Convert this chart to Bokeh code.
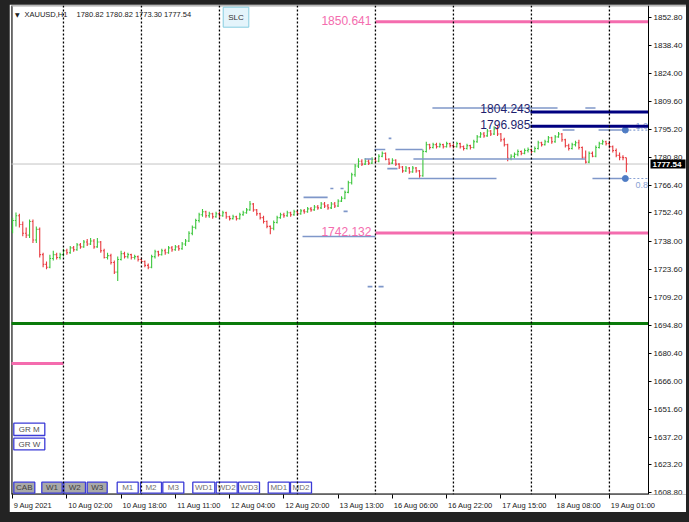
from bokeh.plotting import figure
from bokeh.layouts import column
from bokeh.models import Range1d, FixedTicker, NumeralTickFormatter, Span, Label, BoxAnnotation
from bokeh.core.properties import value
from bokeh.embed import file_html
from bokeh.resources import INLINE

# ---------------- data ----------------
symbol = "XAUUSD,H1"
header_values = "1780.82 1780.82 1773.30 1777.54"

opens = [1743.5, 1748.5, 1751.0, 1746.5, 1742.0, 1741.0, 1748.0, 1738.5, 1744.0, 1731.0,
         1726.0, 1724.5, 1729.0, 1731.0, 1729.5, 1731.0, 1733.0, 1732.0, 1734.5, 1733.5,
         1736.0, 1735.0, 1737.5, 1736.5, 1738.0, 1735.0, 1737.5, 1733.0, 1729.5, 1730.5,
         1727.0, 1722.0, 1728.5, 1731.5, 1730.0, 1731.0, 1729.5, 1730.0, 1728.5, 1727.5,
         1725.5, 1724.5, 1730.0, 1732.5, 1731.0, 1733.0, 1732.0, 1734.5, 1733.5, 1735.0,
         1734.0, 1736.5, 1738.0, 1742.0, 1745.0, 1748.5, 1751.5, 1753.0, 1751.0, 1752.0,
         1750.5, 1752.0, 1751.0, 1752.5, 1750.5, 1749.5, 1750.5, 1749.5, 1751.5, 1752.5,
         1754.0, 1757.0, 1754.0, 1752.0, 1750.0, 1748.0, 1745.5, 1744.5, 1747.5, 1750.0,
         1751.5, 1751.0, 1752.5, 1751.5, 1753.0, 1752.0, 1753.5, 1753.0, 1754.5, 1754.0,
         1755.5, 1755.0, 1757.0, 1756.0, 1755.0, 1757.0, 1756.0, 1758.5, 1760.0, 1763.0,
         1768.0, 1772.0, 1776.5, 1779.0, 1777.5, 1779.0, 1778.0, 1780.0, 1779.0, 1781.5,
         1783.0, 1780.0, 1778.0, 1779.5, 1777.5, 1776.0, 1774.0, 1775.5, 1773.5, 1775.5,
         1774.0, 1771.5, 1784.0, 1787.5, 1786.0, 1787.5, 1786.5, 1787.5, 1786.5, 1788.0,
         1787.0, 1786.5, 1788.0, 1786.5, 1785.5, 1787.0, 1786.0, 1789.0, 1791.5, 1793.0,
         1792.0, 1794.5, 1793.0, 1795.5, 1793.0, 1790.0, 1787.5, 1780.5, 1781.5, 1782.5,
         1784.0, 1783.0, 1784.5, 1785.0, 1784.0, 1785.5, 1788.5, 1787.5, 1789.0, 1791.0,
         1789.0, 1791.5, 1793.0, 1790.0, 1787.0, 1785.5, 1787.5, 1788.5, 1786.0, 1781.0,
         1778.5, 1783.0, 1781.5, 1786.0, 1788.0, 1789.0, 1788.0, 1786.5, 1784.5, 1782.0,
         1781.0, 1780.82]
highs = [1750.0, 1752.6, 1752.0, 1748.0, 1745.0, 1749.0, 1749.0, 1745.5, 1745.0, 1732.0,
         1727.5, 1731.0, 1733.0, 1732.0, 1732.0, 1734.0, 1734.0, 1735.5, 1735.5, 1737.0,
         1737.0, 1738.5, 1739.0, 1739.5, 1739.0, 1739.5, 1738.0, 1734.0, 1732.0, 1731.5,
         1728.0, 1730.0, 1733.0, 1732.5, 1732.0, 1731.5, 1731.0, 1730.5, 1729.5, 1728.0,
         1726.5, 1731.0, 1733.5, 1733.0, 1734.0, 1734.0, 1735.5, 1735.5, 1736.0, 1736.0,
         1737.5, 1739.0, 1743.0, 1746.0, 1749.5, 1752.5, 1754.5, 1753.5, 1753.0, 1752.5,
         1753.0, 1753.0, 1753.5, 1753.0, 1751.0, 1751.5, 1751.0, 1752.5, 1753.5, 1755.0,
         1758.5, 1757.5, 1754.5, 1752.5, 1751.0, 1748.5, 1746.0, 1748.5, 1751.0, 1752.5,
         1752.5, 1753.5, 1753.0, 1754.0, 1754.0, 1754.5, 1754.5, 1755.5, 1755.5, 1756.5,
         1756.5, 1758.0, 1758.0, 1757.0, 1758.0, 1758.0, 1759.5, 1761.0, 1764.0, 1769.0,
         1773.0, 1777.5, 1780.5, 1780.0, 1780.5, 1780.0, 1781.0, 1781.0, 1782.5, 1784.0,
         1783.5, 1780.5, 1780.5, 1780.0, 1778.0, 1776.5, 1776.5, 1776.0, 1776.5, 1776.0,
         1774.5, 1785.0, 1789.0, 1788.0, 1788.5, 1788.5, 1788.5, 1788.0, 1789.0, 1788.5,
         1788.0, 1789.0, 1788.5, 1787.0, 1788.0, 1787.5, 1790.0, 1792.5, 1794.0, 1794.0,
         1795.5, 1795.0, 1797.0, 1797.5, 1793.5, 1791.0, 1788.0, 1782.5, 1783.5, 1785.0,
         1784.5, 1785.5, 1786.0, 1785.5, 1786.5, 1789.5, 1789.0, 1790.0, 1792.0, 1791.5,
         1792.5, 1794.0, 1793.5, 1790.5, 1788.0, 1788.5, 1789.5, 1790.0, 1786.5, 1784.5,
         1784.0, 1784.0, 1787.0, 1789.0, 1790.0, 1789.5, 1789.5, 1787.0, 1785.5, 1783.5,
         1782.0, 1780.82]
lows = [1742.0, 1745.5, 1745.0, 1740.5, 1739.5, 1739.5, 1737.0, 1737.0, 1729.5, 1724.5,
        1723.5, 1724.0, 1728.0, 1728.5, 1728.5, 1730.0, 1731.0, 1731.5, 1732.5, 1733.0,
        1734.0, 1734.5, 1735.5, 1736.0, 1734.0, 1734.5, 1732.0, 1729.0, 1728.5, 1726.0,
        1721.0, 1717.5, 1728.0, 1729.0, 1729.0, 1728.5, 1728.5, 1727.5, 1726.5, 1724.5,
        1723.5, 1724.0, 1729.0, 1730.0, 1730.5, 1731.0, 1731.5, 1732.5, 1733.0, 1733.0,
        1733.5, 1735.5, 1737.5, 1741.0, 1744.0, 1747.5, 1750.5, 1750.0, 1750.0, 1749.5,
        1750.0, 1750.0, 1750.5, 1749.5, 1748.5, 1749.0, 1748.5, 1749.0, 1751.0, 1752.0,
        1753.5, 1753.0, 1751.0, 1749.0, 1747.0, 1744.5, 1741.5, 1743.5, 1747.0, 1749.5,
        1750.0, 1750.5, 1750.5, 1751.0, 1751.0, 1751.5, 1752.0, 1752.5, 1753.0, 1753.5,
        1754.0, 1754.5, 1755.0, 1754.0, 1754.5, 1755.0, 1755.5, 1758.0, 1759.5, 1762.5,
        1767.0, 1771.0, 1775.5, 1776.5, 1777.0, 1777.0, 1777.5, 1778.0, 1778.5, 1781.0,
        1779.5, 1777.0, 1777.5, 1776.5, 1775.0, 1773.0, 1773.5, 1772.5, 1773.0, 1773.0,
        1770.5, 1771.0, 1783.5, 1785.0, 1785.5, 1785.5, 1786.0, 1785.5, 1786.0, 1786.0,
        1785.5, 1786.0, 1785.5, 1784.5, 1785.0, 1785.0, 1785.5, 1788.5, 1791.0, 1791.0,
        1791.5, 1792.0, 1792.5, 1792.0, 1789.0, 1786.5, 1779.0, 1779.5, 1780.5, 1781.5,
        1782.0, 1782.5, 1783.5, 1783.0, 1783.5, 1785.0, 1786.5, 1787.0, 1788.5, 1788.0,
        1788.5, 1791.0, 1789.0, 1786.0, 1784.5, 1785.0, 1786.5, 1785.0, 1780.0, 1777.8,
        1778.0, 1781.0, 1781.0, 1785.5, 1787.5, 1787.0, 1785.5, 1783.5, 1781.0, 1779.5,
        1779.5, 1773.30]
closes = [1748.5, 1751.0, 1746.5, 1742.0, 1741.0, 1748.0, 1738.5, 1744.0, 1731.0, 1726.0,
          1724.5, 1729.0, 1731.0, 1729.5, 1731.0, 1733.0, 1732.0, 1734.5, 1733.5, 1736.0,
          1735.0, 1737.5, 1736.5, 1738.0, 1735.0, 1737.5, 1733.0, 1729.5, 1730.5, 1727.0,
          1722.0, 1728.5, 1731.5, 1730.0, 1731.0, 1729.5, 1730.0, 1728.5, 1727.5, 1725.5,
          1724.5, 1730.0, 1732.5, 1731.0, 1733.0, 1732.0, 1734.5, 1733.5, 1735.0, 1734.0,
          1736.5, 1738.0, 1742.0, 1745.0, 1748.5, 1751.5, 1753.0, 1751.0, 1752.0, 1750.5,
          1752.0, 1751.0, 1752.5, 1750.5, 1749.5, 1750.5, 1749.5, 1751.5, 1752.5, 1754.0,
          1757.0, 1754.0, 1752.0, 1750.0, 1748.0, 1745.5, 1744.5, 1747.5, 1750.0, 1751.5,
          1751.0, 1752.5, 1751.5, 1753.0, 1752.0, 1753.5, 1753.0, 1754.5, 1754.0, 1755.5,
          1755.0, 1757.0, 1756.0, 1755.0, 1757.0, 1756.0, 1758.5, 1760.0, 1763.0, 1768.0,
          1772.0, 1776.5, 1779.0, 1777.5, 1779.0, 1778.0, 1780.0, 1779.0, 1781.5, 1783.0,
          1780.0, 1778.0, 1779.5, 1777.5, 1776.0, 1774.0, 1775.5, 1773.5, 1775.5, 1774.0,
          1771.5, 1784.0, 1787.5, 1786.0, 1787.5, 1786.5, 1787.5, 1786.5, 1788.0, 1787.0,
          1786.5, 1788.0, 1786.5, 1785.5, 1787.0, 1786.0, 1789.0, 1791.5, 1793.0, 1792.0,
          1794.5, 1793.0, 1795.5, 1793.0, 1790.0, 1787.5, 1780.5, 1781.5, 1782.5, 1784.0,
          1783.0, 1784.5, 1785.0, 1784.0, 1785.5, 1788.5, 1787.5, 1789.0, 1791.0, 1789.0,
          1791.5, 1793.0, 1790.0, 1787.0, 1785.5, 1787.5, 1788.5, 1786.0, 1781.0, 1778.5,
          1783.0, 1781.5, 1786.0, 1788.0, 1789.0, 1788.0, 1786.5, 1784.5, 1782.0, 1781.0,
          1780.82, 1777.54]

time_tick_bars = [0, 16, 32, 48, 64, 80, 96, 112, 128, 144, 160, 176]
time_tick_labels = ["9 Aug 2021", "10 Aug 02:00", "10 Aug 18:00", "11 Aug 11:00",
                    "12 Aug 04:00", "12 Aug 20:00", "13 Aug 13:00", "16 Aug 06:00",
                    "16 Aug 22:00", "17 Aug 15:00", "18 Aug 08:00", "19 Aug 01:00"]
day_start_bars = [15, 38, 61, 84, 107, 130, 153, 176]
price_ticks = [1852.80, 1838.40, 1824.00, 1809.60, 1795.20, 1780.80, 1766.40, 1752.40,
               1738.00, 1723.60, 1709.20, 1694.80, 1680.40, 1666.00, 1651.60, 1637.20,
               1623.20, 1608.80]

current_price = 1777.54
pink_levels = [1850.641, 1742.132]
pink_level_start = 107
pink_short_level = 1675.1
pink_short_end = 15
green_level = 1695.6
navy_levels = [1804.243, 1796.985]
navy_level_start = 152.7

lb_start = [123.8, 168.9, 162.2, 172.8, 118.2, 116.7, 171.0, 106.7, 112.9, 110.9,
            103.8, 110.5, 93.7, 96.7, 97.6, 85.8, 104.7, 107.9, 85.5]
lb_end = [160.7, 171.9, 165.7, 180.7, 168.9, 142.7, 180.7, 109.9, 120.9, 111.7,
          106.1, 113.5, 94.6, 97.6, 98.8, 92.9, 106.1, 109.4, 107.0]
lb_price = [1806.3, 1806.3, 1795.0, 1795.0, 1780.1, 1770.1, 1770.1, 1785.0, 1785.0, 1790.7,
            1780.1, 1775.2, 1765.0, 1765.0, 1753.2, 1760.4, 1714.6, 1714.6, 1740.3]

fib_bar = 180.7
fib_prices = [1795.0, 1770.1]
fib_labels = ["1.0", "0.8"]

btn_labels = ["CAB", "W1", "W2", "W3", "M1", "M2", "M3", "WD1", "WD2", "WD3", "MD1", "MD2"]
btn_pressed = [True, True, True, True, False, False, False, False, False, False, False, False]
side_btn_labels = ["GR M", "GR W"]

# ---------------- layout helpers (window pixel -> data) ----------------
BAR_PX, X0_PX = 3.391, 12.1
PRICE_PX, Y0_PX, Y0_PRICE = 1.947, 17.0, 1852.8
FRAME_L, CHART_R, FRAME_T, FRAME_B = 11, 648, 5, 494
WIN_L, WIN_R, WIN_T, WIN_B = 9, 686, 4, 511


def bx(px):
    return (px - X0_PX) / BAR_PX


def py(px):
    return Y0_PRICE - (px - Y0_PX) / PRICE_PX


FONT = value("Liberation Sans")
X_END = bx(CHART_R)

# the frame spans the chart and the price-scale column; the price axis is pinned at the chart edge
p = figure(frame_width=WIN_R - FRAME_L, frame_height=FRAME_B - FRAME_T,
           x_range=Range1d(bx(FRAME_L), bx(WIN_R)), y_range=Range1d(py(FRAME_B), py(FRAME_T)),
           y_axis_location="right", toolbar_location=None, output_backend="svg",
           min_border_left=FRAME_L - WIN_L, min_border_top=FRAME_T - WIN_T,
           min_border_right=0, min_border_bottom=WIN_B - FRAME_B,
           background_fill_color="white", border_fill_color="white",
           outline_line_color=None,
           margin=(WIN_T, 689 - WIN_R, 522 - WIN_B, WIN_L))
p.xgrid.visible = False
p.ygrid.visible = False

# axes
ya = p.yaxis[0]
ya.fixed_location = X_END
ya.ticker = FixedTicker(ticks=price_ticks, minor_ticks=[])
ya.formatter = NumeralTickFormatter(format="0.00")
ya.major_tick_out = 3
ya.major_tick_in = 0
ya.major_label_standoff = 2
ya.major_label_text_font = "Liberation Sans"
ya.major_label_text_font_size = "8px"
ya.major_label_text_color = "#202020"
ya.axis_line_color = "black"
ya.major_tick_line_color = "black"

xa = p.xaxis[0]
label_pos = [b + 7 if b > 0 else 6 for b in time_tick_bars]
xa.ticker = FixedTicker(ticks=label_pos, minor_ticks=time_tick_bars)
xa.major_label_overrides = {lp: t for lp, t in zip(label_pos, time_tick_labels)}
xa.major_tick_line_color = None
xa.major_tick_out = 0
xa.major_tick_in = 0
xa.minor_tick_line_color = "black"
xa.minor_tick_out = 4
xa.minor_tick_in = 0
xa.major_label_standoff = 2
xa.major_label_text_font = "Liberation Sans"
xa.major_label_text_font_size = "7.5px"
xa.major_label_text_color = "#202020"
xa.axis_line_color = None

# chart borders (left, bottom up to the price scale, light top edge)
p.segment(x0=[bx(FRAME_L), bx(FRAME_L)], y0=[py(FRAME_B), py(FRAME_B)],
          x1=[bx(FRAME_L), X_END], y1=[py(FRAME_T), py(FRAME_B)], line_color="black", line_width=2)
p.segment(x0=[bx(FRAME_L)], y0=[py(FRAME_T)], x1=[bx(WIN_R)], y1=[py(FRAME_T)],
          line_color="#a8a8a8", line_width=2)

# current price line
p.segment(x0=[bx(FRAME_L) - 1], y0=[current_price], x1=[X_END], y1=[current_price],
          line_color="#c4c4c4", line_width=1)

# bars
bull, bear = "#3cc63c", "#e8393e"
xs = list(range(len(closes)))
cols = [bull if c >= o else bear for o, c in zip(opens, closes)]
p.segment(x0=xs, y0=lows, x1=xs, y1=highs, line_color=cols, line_width=1.1)
p.segment(x0=[x - 0.36 for x in xs], y0=opens, x1=xs, y1=opens, line_color=cols, line_width=1.1)
p.segment(x0=xs, y0=closes, x1=[x + 0.36 for x in xs], y1=closes, line_color=cols, line_width=1.1)

# day separators
for d in day_start_bars:
    p.add_layout(Span(location=d, dimension="height", line_color="black",
                      line_width=1.3, line_dash="2 2"))

# light blue levels
lb_col = "#7f97c9"
p.segment(x0=lb_start, y0=lb_price, x1=lb_end, y1=lb_price, line_color=lb_col, line_width=1.6)
p.segment(x0=[fib_bar] * 2, y0=fib_prices, x1=[X_END] * 2, y1=fib_prices,
          line_color="#8aa2d4", line_width=1.2, line_dash="2 2")
p.scatter(x=[fib_bar] * 2, y=fib_prices, size=6, color="#4f7cc4")
p.text(x=[bx(635)] * 2, y=fib_prices, text=fib_labels, text_color="#8aa2d4",
       text_font=FONT, text_font_size="9px", text_align="left", text_baseline="bottom",
       y_offset=[-1, 9])

# pink / green / navy levels
pink = "#f46cae"
p.segment(x0=[pink_level_start] * 2, y0=pink_levels, x1=[X_END] * 2, y1=pink_levels,
          line_color=pink, line_width=3)
p.segment(x0=[-1], y0=[pink_short_level], x1=[pink_short_end], y1=[pink_short_level],
          line_color=pink, line_width=3)
p.text(x=[pink_level_start] * 2, y=pink_levels, text=[f"{v:.3f}" for v in pink_levels],
       text_color=pink, text_font=FONT, text_font_size="12px", text_align="right",
       text_baseline="middle", x_offset=-4, y_offset=-1)
p.segment(x0=[-1], y0=[green_level], x1=[X_END], y1=[green_level], line_color="#0a7a0a", line_width=3)
p.segment(x0=[navy_level_start] * 2, y0=navy_levels, x1=[X_END] * 2, y1=navy_levels,
          line_color="#000080", line_width=3)
p.text(x=[navy_level_start] * 2, y=navy_levels, text=[f"{v:.3f}" for v in navy_levels],
       text_color="#1f1f6e", text_font=FONT, text_font_size="12px", text_align="right",
       text_baseline="middle", y_offset=[-4, -2])

# header
p.text(x=[bx(14.5)], y=[py(13.5)], text=["\u25bc"], text_color="#202020",
       text_font=value("DejaVu Sans"), text_font_size="6px", text_baseline="middle")
p.text(x=[bx(24), bx(76)], y=[py(13.5)] * 2, text=[symbol, header_values], text_color="#202020",
       text_font=FONT, text_font_size="7.5px", text_baseline="middle")

# SLC button
p.quad(left=[bx(222.7)], right=[bx(248.3)], top=[py(6.7)], bottom=[py(26.7)],
       fill_color="#e4f4fb", line_color="#86cde0", line_width=1)
p.text(x=[bx(235.5)], y=[py(17)], text=["SLC"], text_color="#303030", text_font=FONT,
       text_font_size="8px", text_align="center", text_baseline="middle")

# bottom buttons
btn_left_px = [13.3, 41.3, 63.3, 86.7, 116.7, 140.0, 162.3, 192.3, 215.7, 238.0, 267.7, 290.0]
btn_right_px = [34.3, 61.7, 85.0, 106.7, 137.7, 161.0, 183.3, 214.3, 236.7, 259.0, 289.0, 311.0]
p.quad(left=[bx(v) for v in btn_left_px], right=[bx(v) for v in btn_right_px],
       top=[py(481.7)] * 12, bottom=[py(492.7)] * 12,
       fill_color=["#a9a9a9" if b else "white" for b in btn_pressed],
       line_color="#3b3bd6", line_width=1.3)
p.text(x=[bx((a + b) / 2) for a, b in zip(btn_left_px, btn_right_px)], y=[py(487.2)] * 12,
       text=btn_labels, text_color=["#404040" if b else "#707070" for b in btn_pressed],
       text_font=FONT, text_font_size="8px", text_align="center", text_baseline="middle")

# side buttons
p.quad(left=[bx(13.3)] * 2, right=[bx(44.3)] * 2, top=[py(422.7), py(437.7)],
       bottom=[py(435.0), py(449.3)], fill_color="white", line_color="#3b3bd6", line_width=1.3)
p.text(x=[bx(28.8)] * 2, y=[py(428.8), py(443.5)], text=side_btn_labels, text_color="#505050",
       text_font=FONT, text_font_size="8px", text_align="center", text_baseline="middle")

# current price tag on the price scale
tag_half = 4.5 / PRICE_PX
p.add_layout(BoxAnnotation(left=bx(650), right=bx(685), bottom=current_price - tag_half,
                           top=current_price + tag_half, fill_color="black", fill_alpha=1.0,
                           line_color=None, level="overlay"))
p.add_layout(Label(x=bx(652), y=current_price, text=f"{current_price:.2f}",
                   text_color="white", text_font="Liberation Sans", text_font_style="bold",
                   text_font_size="8px", text_baseline="middle", text_align="left",
                   level="overlay"))

page = column(p, styles={"background-color": "#232323"})
open("out.html", "w").write(file_html(page, INLINE))
